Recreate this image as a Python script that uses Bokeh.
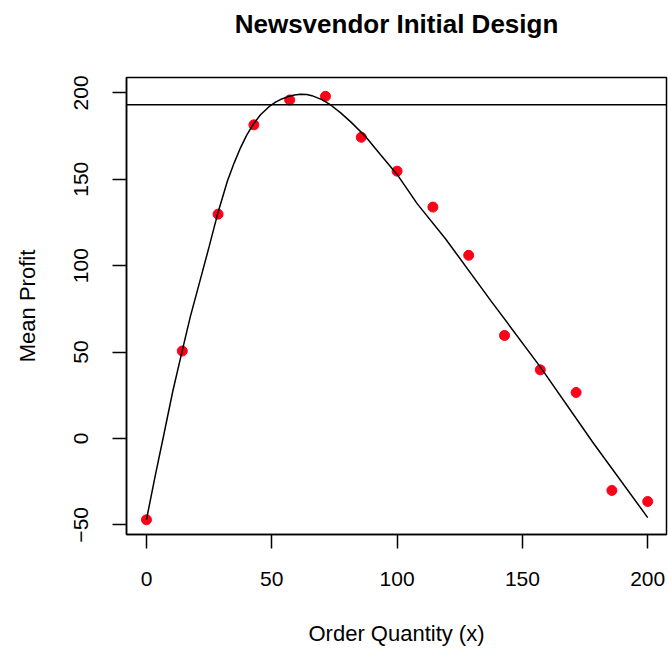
from bokeh.plotting import figure
from bokeh.models import Range1d, FixedTicker, Span, LinearAxis
from bokeh.embed import file_html
from bokeh.resources import INLINE

# Design points (order quantity) and simulated mean profit
order_qty = [0, 14.29, 28.57, 42.86, 57.14, 71.43, 85.71, 100, 114.29,
             128.57, 142.86, 157.14, 171.43, 185.71, 200]
mean_profit = [-47.1, 50.6, 129.8, 181.5, 195.9, 198.0, 174.3, 154.7, 133.9,
               106.0, 59.6, 39.7, 26.6, -30.1, -36.5]

# Fitted curve
curve_x = [0, 3.5, 7, 10.5, 14.3, 17.5, 21.4, 25, 28.4, 32.3, 35, 37.6, 40, 42.7,
           45.5, 48.9, 51.5, 54, 57, 59, 61.5, 64, 66, 70, 73.5, 77.5, 81.5, 87.4,
           93.4, 100, 108, 119.3, 137.3, 157.2, 178.5, 200]
curve_y = [-47, -21.5, 2.7, 27.3, 51, 70.5, 91.5, 111, 130, 149, 159.5, 168.5, 175.5,
           182, 187.3, 192, 194.6, 196.5, 198.1, 198.8, 199.2, 199, 198.4, 196.1,
           193, 188.4, 183.2, 174.8, 164.2, 152.8, 135.9, 115.6, 79.9, 41.3, -3.1, -45.8]

# Horizontal reference level
reference_level = 193.2

x_ticks = [0, 50, 100, 150, 200]
y_ticks = [-50, 0, 50, 100, 150, 200]

title_text = "Newsvendor Initial Design"

FONT = "Liberation Sans"

p = figure(width=668, height=652, output_backend="svg", toolbar_location=None,
           x_range=Range1d(-7.97, 207.5), y_range=Range1d(-55.6, 208.9),
           min_border_left=126, min_border_right=2, min_border_top=77,
           min_border_bottom=118)

bottom_axis = p.below[0]
left_axis = p.left[0]

p.xgrid.visible = False
p.ygrid.visible = False
p.outline_line_color = "black"
p.outline_line_width = 1.5
p.outline_line_alpha = 1.0
p.background_fill_color = "white"
p.border_fill_color = "white"

p.scatter(order_qty, mean_profit, size=10, color="#ff0018", line_color="#ff0018")
p.line(curve_x, curve_y, line_color="black", line_width=1.5)
p.add_layout(Span(location=reference_level, dimension="width",
                  line_color="black", line_width=1.5))

for ax, ticks in ((bottom_axis, x_ticks), (left_axis, y_ticks)):
    ax.ticker = FixedTicker(ticks=ticks)
    ax.minor_tick_out = 0
    ax.minor_tick_in = 0
    ax.major_tick_in = 0
    ax.major_tick_out = 14
    ax.major_tick_line_width = 1.5
    ax.major_tick_line_color = "black"
    ax.axis_line_width = 1.5
    ax.axis_line_color = "black"
    ax.major_label_text_font = FONT
    ax.major_label_text_font_size = "21px"
    ax.major_label_text_color = "black"
    ax.axis_label_text_font = FONT
    ax.axis_label_text_font_size = "22px"
    ax.axis_label_text_font_style = "normal"
    ax.axis_label_text_color = "black"

bottom_axis.axis_label = "Order Quantity (x)"
bottom_axis.major_label_standoff = 23
bottom_axis.axis_label_standoff = 32

left_axis.axis_label = "Mean Profit"
left_axis.major_label_orientation = "vertical"
left_axis.major_label_standoff = 24
left_axis.axis_label_standoff = 32

# Title: carried by a tick-less axis above the frame, centred on the frame
title_axis = LinearAxis(ticker=FixedTicker(ticks=[]), axis_label=title_text,
                        axis_line_color=None, major_tick_line_color=None,
                        minor_tick_line_color=None, major_tick_out=0,
                        minor_tick_out=0, major_tick_in=0, minor_tick_in=0,
                        major_label_text_font_size="0px",
                        axis_label_text_font=FONT, axis_label_text_font_size="26px",
                        axis_label_text_font_style="bold",
                        axis_label_text_color="black", axis_label_standoff=39)
p.add_layout(title_axis, "above")

open("out.html", "w").write(file_html(p, INLINE))
